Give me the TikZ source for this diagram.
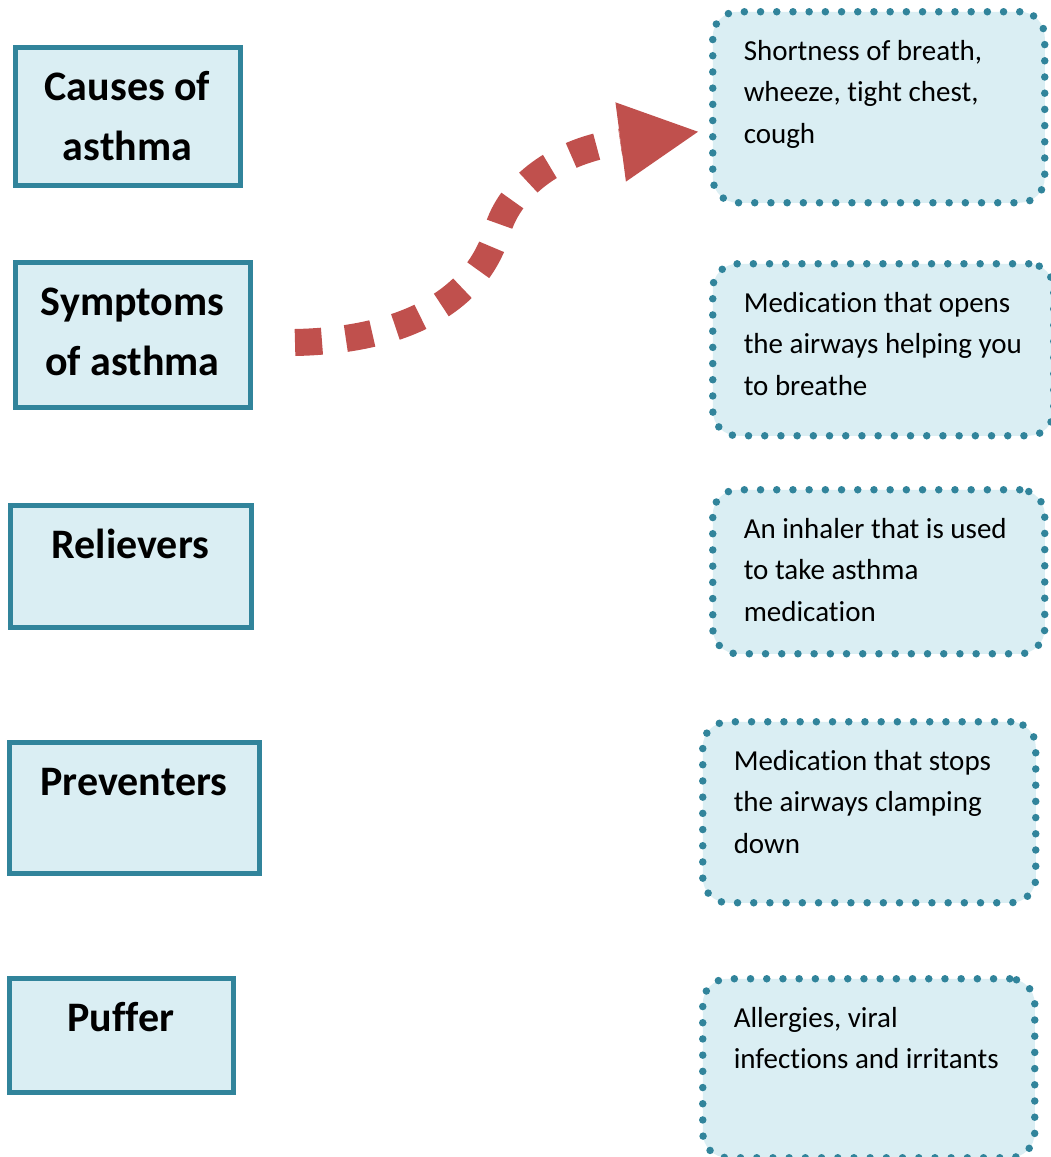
\documentclass[tikz,border=0pt]{standalone}
\usepackage{fontspec}
\setmainfont{Carlito}[Ligatures={NoCommon}]
\usetikzlibrary{arrows.meta}
\definecolor{boxline}{HTML}{31849B}
\definecolor{boxfill}{HTML}{DAEEF3}
\definecolor{arrowred}{HTML}{C0504D}
\tikzset{
  lbox/.style={draw=boxline, fill=boxfill, line width=5pt, inner sep=0pt,
    font=\bfseries\fontsize{42}{60}\selectfont},
  rbox/.style={draw=boxline, fill=boxfill, line width=7.5pt,
    dash pattern=on 0pt off 16.2pt, line cap=round, rounded corners=25pt,
    inner sep=0pt, font=\fontsize{29}{41.5}\selectfont},
  flow/.style={draw=arrowred, line width=27pt, dash pattern=on 27pt off 24pt,
    -{Triangle[length=78pt,width=80pt,line width=0pt]}}
}
\newcommand\leftbox[6]{%
  \node[lbox, anchor=north west] (#1) at (#2,#3)
    {\parbox[c][#5pt][t]{#4pt}{\centering\rule{0pt}{53pt}#6}};}
\newcommand\rightbox[6]{%
  \node[rbox, anchor=north west] (#1) at (#2,#3)
    {\parbox[c][#5pt][t]{#4pt}{\raggedright\leftskip=31pt\rule{0pt}{48.5pt}#6}};}
\begin{document}
\begin{tikzpicture}[x=1pt,y=-1pt]
\useasboundingbox (0,0) rectangle (1051,1157);
\leftbox{causes}{12.5}{44.5}{225}{138}{Causes of\\asthma}
\leftbox{symptoms}{12.5}{259.5}{235}{145}{Symptoms\\of asthma}
\leftbox{relievers}{7.5}{502.5}{241}{122}{Relievers}
\leftbox{preventers}{6.5}{739.5}{250}{131}{Preventers}
\leftbox{puffer}{6.5}{975.5}{224}{114}{Puffer}
\rightbox{r1}{709}{8}{332}{191}{Shortness of breath,\\wheeze, tight chest,\\cough}
\rightbox{r2}{709}{260}{341}{172}{Medication that opens\\the airways helping you\\to breathe}
\rightbox{r3}{709}{486}{332}{164}{An inhaler that is used\\to take asthma\\medication}
\rightbox{r4}{699}{718}{333}{181}{Medication that stops\\the airways clamping\\down}
\rightbox{r5}{699}{975}{332}{179}{Allergies, viral\\infections and irritants}
\coordinate (astart) at ([shift={(42.5,8)}]symptoms.east);
\coordinate (amid) at (497,232);
\coordinate (aend) at ([shift={(-11,24.5)}]r1.west);
\draw[flow] (astart) .. controls (420,340) and (480,290) .. (amid)
  .. controls (510,185) and (560,150) .. (aend);
\end{tikzpicture}
\end{document}
